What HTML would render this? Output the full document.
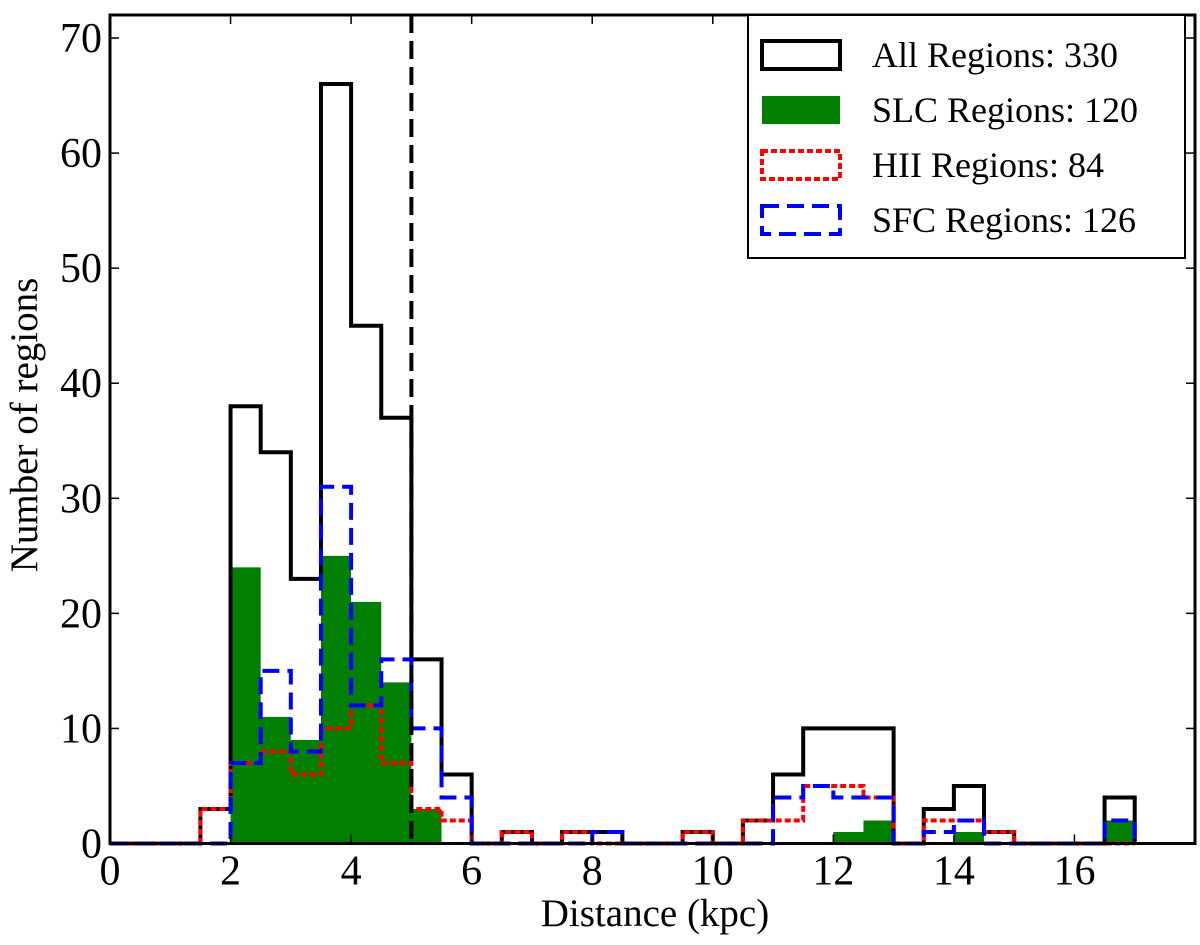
<!DOCTYPE html>
<html><head><meta charset="utf-8"><style>
body{margin:0;background:#fff}
svg text{font-family:"Liberation Serif",serif;fill:#000}
</style></head><body>
<svg id="chart" width="1200" height="940" viewBox="0 0 1200 940">
<g id="plot"></g>
</svg>
<script>
const binStart=0, binWidth=0.5, nBins=34;
const allCounts={1.5:3,2:38,2.5:34,3:23,3.5:66,4:45,4.5:37,5:16,5.5:6,6.5:1,7.5:1,8:1,9.5:1,10.5:2,11:6,11.5:10,12:10,12.5:10,13.5:3,14:5,14.5:1,16.5:4};
const slcCounts={2:24,2.5:11,3:9,3.5:25,4:21,4.5:14,5:3,12:1,12.5:2,14:1,16.5:2};
const hiiCounts={1.5:3,2:7,2.5:8,3:6,3.5:10,4:12,4.5:7,5:3,5.5:2,6.5:1,7.5:1,9.5:1,10.5:2,11:2,11.5:5,12:5,12.5:4,13.5:2,14:2,14.5:1};
const sfcCounts={2:7,2.5:15,3:8,3.5:31,4:12,4.5:16,5:10,5.5:4,8:1,11:4,11.5:5,12:4,12.5:4,13.5:1,14:2,16.5:2};
const xTicks=[0,2,4,6,8,10,12,14,16];
const yTicks=[0,10,20,30,40,50,60,70];
const legendLabels=["All Regions: 330","SLC Regions: 120","HII Regions: 84","SFC Regions: 126"];
const cutoff=5;

const L=110,R=1195,T=15,B=843.5,xMax=18,yMax=72;
const X=v=>L+v/xMax*(R-L);
const Y=v=>B-v/yMax*(B-T);
const NS="http://www.w3.org/2000/svg";
const g=document.getElementById('plot');
function mk(tag,attrs,parent){const e=document.createElementNS(NS,tag);for(const k in attrs)e.setAttribute(k,attrs[k]);(parent||g).appendChild(e);return e;}
function vals(obj){const a=[];for(let i=0;i<nBins;i++){const x=binStart+i*binWidth;a.push(obj[x]||0);}return a;}
function stepPath(obj){const v=vals(obj);let d=`M${X(binStart)},${Y(0)}`;for(let i=0;i<nBins;i++){const x0=binStart+i*binWidth,x1=x0+binWidth;d+=` L${X(x0)},${Y(v[i])} L${X(x1)},${Y(v[i])}`;}d+=` L${X(binStart+nBins*binWidth)},${Y(0)}`;return d;}

const slc=mk('path',{d:stepPath(slcCounts)+' Z',fill:'#007f00',stroke:'none'});


const allP=mk('path',{d:stepPath(allCounts),fill:'none',stroke:'#000','stroke-width':4,'stroke-linejoin':'miter'});


const hii=mk('path',{d:stepPath(hiiCounts),fill:'none',stroke:'#ff0000','stroke-width':4,'stroke-dasharray':'6,3'});


const sfc=mk('path',{d:stepPath(sfcCounts),fill:'none',stroke:'#0000ff','stroke-width':4,'stroke-dasharray':'17,8'});


const vl=mk('line',{x1:X(cutoff),x2:X(cutoff),y1:T,y2:B,stroke:'#000','stroke-width':4,'stroke-dasharray':'18,8'});



const fr=mk('rect',{x:L,y:T,width:R-L,height:B-T,fill:'none',stroke:'#000','stroke-width':3});


xTicks.forEach(t=>{
  mk('line',{x1:X(t),x2:X(t),y1:B,y2:B-9,stroke:'#000','stroke-width':1.5});
  mk('line',{x1:X(t),x2:X(t),y1:T,y2:T+9,stroke:'#000','stroke-width':1.5});
  const tx=mk('text',{x:X(t),y:B+41,'text-anchor':'middle','font-size':42});tx.textContent=t;
  
  
});
yTicks.forEach(t=>{
  mk('line',{x1:L,x2:L+9,y1:Y(t),y2:Y(t),stroke:'#000','stroke-width':1.5});
  mk('line',{x1:R,x2:R-9,y1:Y(t),y2:Y(t),stroke:'#000','stroke-width':1.5});
  const tx=mk('text',{x:L-8,y:Y(t)+14,'text-anchor':'end','font-size':42});tx.textContent=t;
  
  
});
const xt=mk('text',{x:655,y:926,'text-anchor':'middle','font-size':39});xt.textContent='Distance (kpc)';


const yt=mk('text',{x:0,y:0,'text-anchor':'middle','font-size':39,transform:`translate(37,425) rotate(-90)`});yt.textContent='Number of regions';



const lg=mk('g',{});


mk('rect',{x:748,y:15,width:437,height:243,fill:'#fff',stroke:'#000','stroke-width':2},lg);
const sw=[{fill:'none',stroke:'#000',da:''},{fill:'#007f00',stroke:'none',da:''},{fill:'none',stroke:'#ff0000',da:'6,3'},{fill:'none',stroke:'#0000ff',da:'17,8'}];
legendLabels.forEach((lab,i)=>{
  const cy=55+i*55;
  const e=mk('g',{},lg);
  
  
  const r=mk('rect',{x:762,y:cy-14,width:78,height:28,fill:sw[i].fill,stroke:sw[i].stroke,'stroke-width':4},e);
  if(sw[i].da)r.setAttribute('stroke-dasharray',sw[i].da);
  const t=mk('text',{x:872,y:cy+12,'font-size':36},e);t.textContent=lab;
});
</script>
</body></html>
